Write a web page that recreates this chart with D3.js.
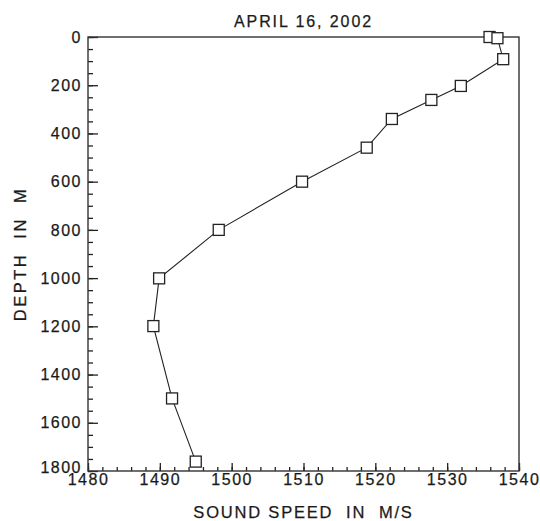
<!DOCTYPE html>
<html>
<head>
<meta charset="utf-8">
<script src="https://cdn.jsdelivr.net/npm/d3@7"></script>
<style>
body { margin: 0; background: #fff; }
text { font-family: "Liberation Sans", Arial, sans-serif; fill: #1a1a1a; stroke: #1a1a1a; stroke-width: 0.25px; }
</style>
</head>
<body>
<svg id="chart" width="540" height="521"></svg>
<script>
// sound speed profile
var speed = [1535.9, 1537.0, 1537.8, 1531.9, 1527.8, 1522.3, 1518.8, 1509.8, 1498.2, 1489.9, 1489.1, 1491.7, 1495.0];
var depth = [0, 5, 92, 203, 261, 340, 459, 600, 800, 1001, 1199, 1499, 1761];

var x_ticks = [1480, 1490, 1500, 1510, 1520, 1530, 1540];
var y_ticks = [0, 200, 400, 600, 800, 1000, 1200, 1400, 1600, 1800];

var title = "APRIL 16, 2002",
	x_title = "SOUND SPEED\u00a0 IN\u00a0 M/S",
	y_title = "DEPTH\u00a0 IN\u00a0 M";

//plot box (window.top is taken, so m_ prefix)
var m_left = 88, m_right = 519, m_top = 37, m_bottom = 471,
	box = 11;

var svg = d3.select("#chart");

var x = d3.scaleLinear().domain([1480, 1540]).range([m_left, m_right]);
var y = d3.scaleLinear().domain([0, 1800]).range([m_top, m_bottom]);

//minor ticks first, then majors on top
svg.append("g")
	.attr("transform", "translate(0," + m_bottom + ")")
	.call(d3.axisBottom(x).tickValues(d3.range(1480, 1541, 2)).tickSize(-4).tickFormat(""))
	.call(function(g) { g.select(".domain").remove(); });

svg.append("g")
	.attr("class", "xaxis")
	.attr("transform", "translate(0," + m_bottom + ")")
	.call(d3.axisBottom(x).tickValues(x_ticks).tickSize(-8).tickFormat(d3.format("d")))
	.call(function(g) { g.select(".domain").remove(); });

svg.append("g")
	.attr("transform", "translate(" + m_left + ",0)")
	.call(d3.axisLeft(y).tickValues(d3.range(0, 1801, 50)).tickSize(-5).tickFormat(""))
	.call(function(g) { g.select(".domain").remove(); });

svg.append("g")
	.attr("class", "yaxis")
	.attr("transform", "translate(" + m_left + ",0)")
	.call(d3.axisLeft(y).tickValues(y_ticks).tickSize(-10).tickFormat(d3.format("d")))
	.call(function(g) { g.select(".domain").remove(); });

svg.selectAll(".tick line").attr("stroke", "#222").attr("stroke-width", 1.3);

svg.selectAll(".xaxis text, .yaxis text")
	.style("font-size", "16px")
	.style("letter-spacing", "1.5px")
	.style("font-family", "'Liberation Sans', Arial, sans-serif")
	.attr("fill", "#1a1a1a");

svg.selectAll(".xaxis .tick text").attr("dy", "0.71em").attr("y", 3);
svg.selectAll(".yaxis .tick text").attr("x", -6);
//1800 sits a little high in the original, clear of 1480
svg.selectAll(".yaxis .tick text").filter(function(d) { return d == 1800; }).attr("dy", "0.1em");

//frame
svg.append("rect")
	.attr("x", m_left).attr("y", m_top)
	.attr("width", m_right - m_left).attr("height", m_bottom - m_top)
	.attr("fill", "none")
	.attr("stroke", "#333")
	.attr("stroke-width", 1.4);

//profile line
var line = d3.line()
	.x(function(d, i) { return x(speed[i]); })
	.y(function(d, i) { return y(depth[i]); });

svg.append("path")
	.datum(depth)
	.attr("d", line)
	.attr("fill", "none")
	.attr("stroke", "#222")
	.attr("stroke-width", 1.1);

svg.selectAll(".pt")
	.data(depth)
	.enter().append("rect")
		.attr("class", "pt")
		.attr("x", function(d, i) { return x(speed[i]) - box / 2; })
		.attr("y", function(d, i) { return y(depth[i]) - box / 2; })
		.attr("width", box)
		.attr("height", box)
		.attr("fill", "#fff")
		.attr("stroke", "#222")
		.attr("stroke-width", 1.3);

//titles
svg.append("text")
	.attr("x", (m_left + m_right) / 2).attr("y", 27)
	.attr("text-anchor", "middle")
	.style("font-size", "16px")
	.style("letter-spacing", "1.9px")
	.text(title);

svg.append("text")
	.attr("x", (m_left + m_right) / 2).attr("y", 518)
	.attr("text-anchor", "middle")
	.style("font-size", "16.5px")
	.style("letter-spacing", "1.8px")
	.text(x_title);

svg.append("text")
	.attr("transform", "translate(26," + ((m_top + m_bottom) / 2) + ") rotate(-90)")
	.attr("text-anchor", "middle")
	.style("font-size", "16.5px")
	.style("letter-spacing", "2.5px")
	.text(y_title);
</script>
</body>
</html>
